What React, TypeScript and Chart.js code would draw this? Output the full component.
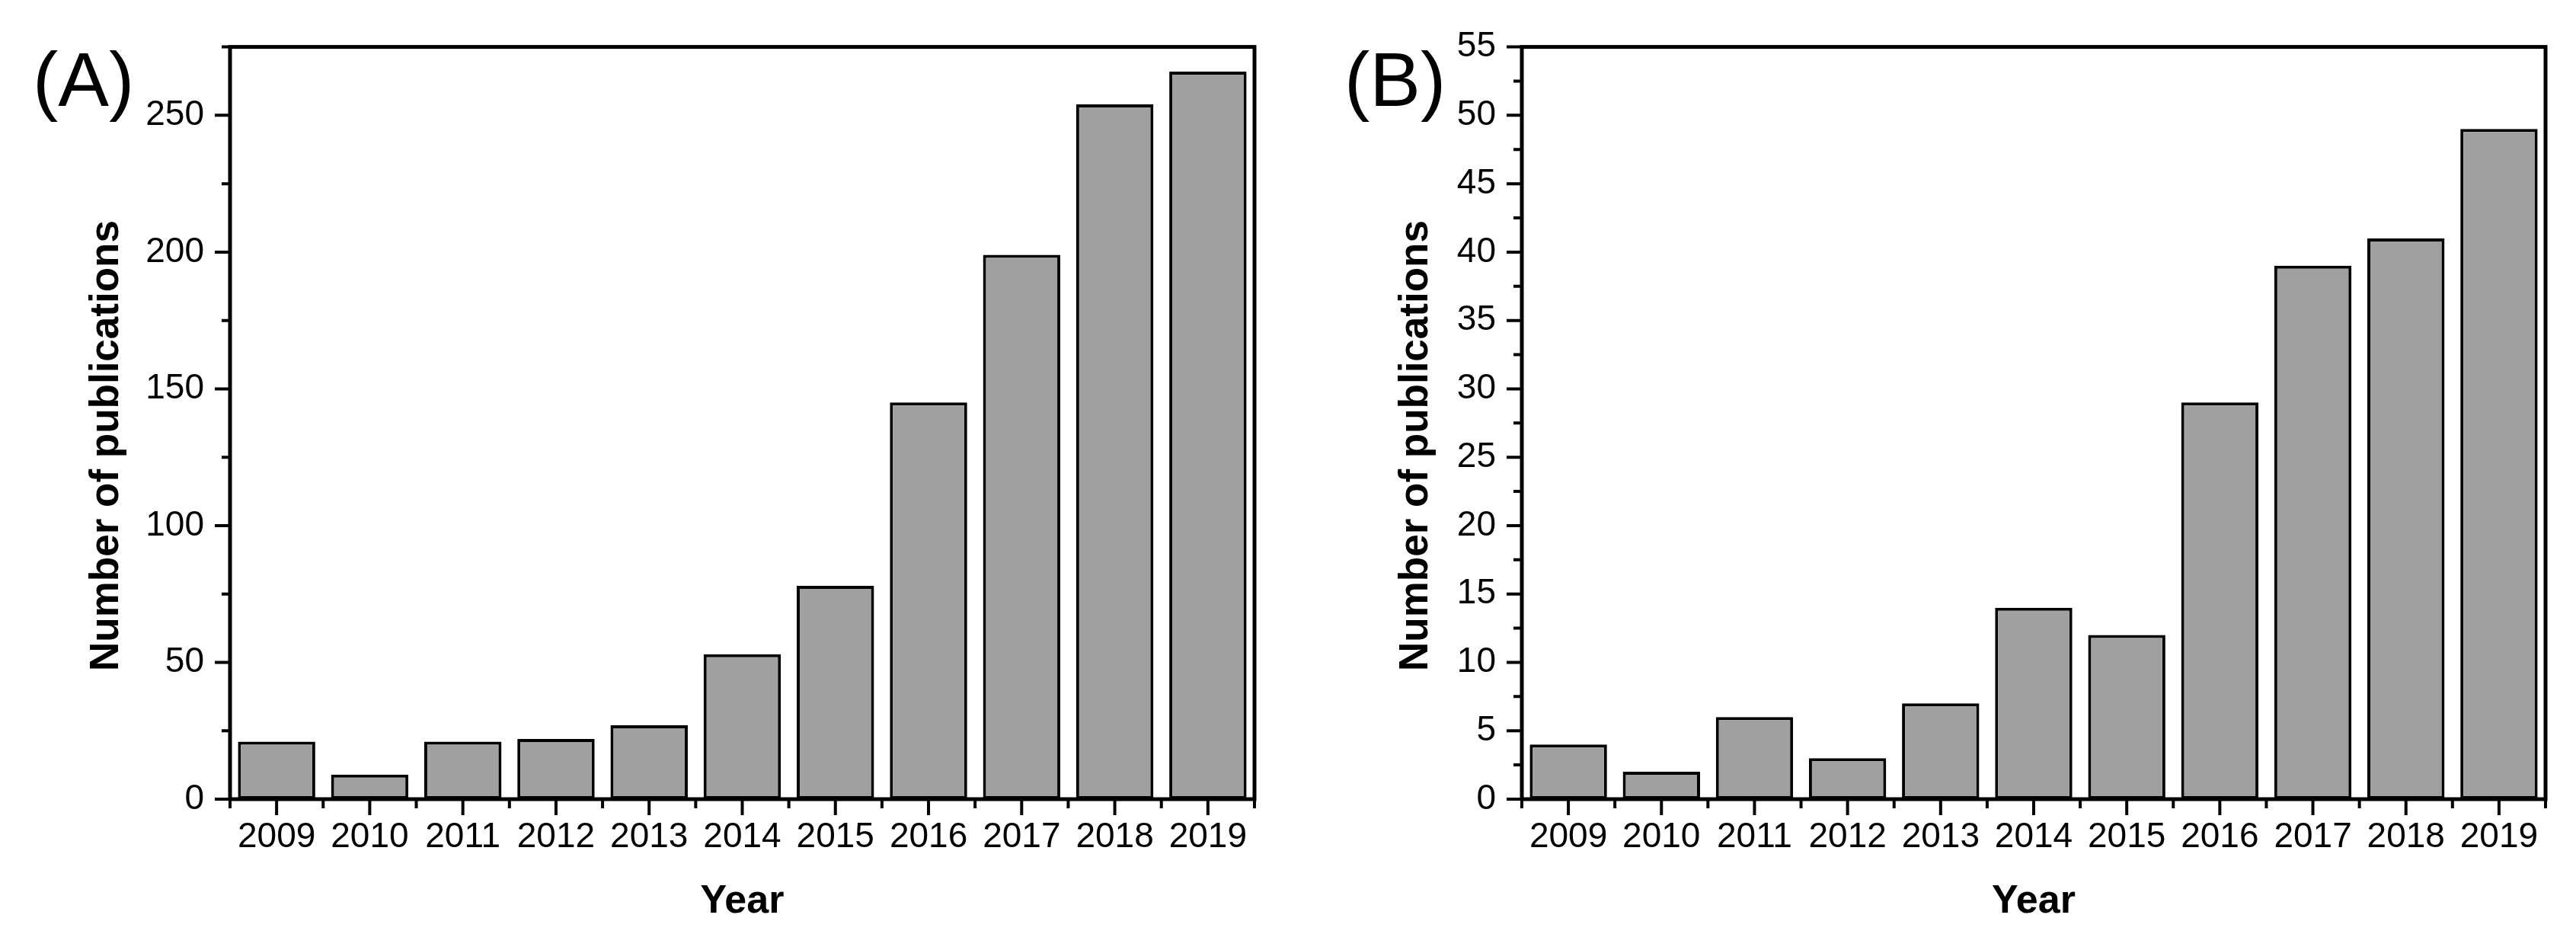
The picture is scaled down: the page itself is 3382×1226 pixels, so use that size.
import React, { useEffect, useRef } from 'react';
import { Chart, registerables } from 'chart.js';

Chart.register(...registerables);

// ---- data ----
const years = ['2009', '2010', '2011', '2012', '2013', '2014', '2015', '2016', '2017', '2018', '2019'];
const publicationsA = [21, 9, 21, 22, 27, 53, 78, 145, 199, 254, 266];
const publicationsB = [4, 2, 6, 3, 7, 14, 12, 29, 39, 41, 49];
const yMaxA = 275;
const yStepA = 25;
const yMajorA = 50;
const yMaxB = 55;
const yStepB = 2.5;
const yMajorB = 5;
const panelLabels = ['(A)', '(B)'];
const xTitle = 'Year';
const yTitle = 'Number of publications';

const FONT = '"Liberation Sans", Arial, Helvetica, sans-serif';
const CANVAS_W = 1691;
const CANVAS_H = 1226;

type PanelProps = {
  label: string;
  values: number[];
  yMax: number;
  yStep: number;
  yMajor: number;
  yAxisWidth: number;
  padRight: number;
  labelX: number;
  yTitleX: number;
  left: number;
};

function isMajor(v: number, major: number) {
  const r = v / major;
  return Math.abs(r - Math.round(r)) < 1e-6;
}

function Panel(props: PanelProps) {
  const ref = useRef<HTMLCanvasElement | null>(null);
  useEffect(() => {
    const canvas = ref.current;
    if (!canvas) return;
    const { label, values, yMax, yStep, yMajor, yAxisWidth, padRight, labelX, yTitleX } = props;
    const n = years.length;
    const framePlugin = {
      id: 'frameTicks',
      afterDraw(chart: any) {
        const { ctx, chartArea: a, scales } = chart;
        const x = scales.x;
        const y = scales.y;
        ctx.save();
        ctx.strokeStyle = '#000';
        ctx.lineWidth = 4;
        ctx.lineCap = 'butt';
        ctx.beginPath();
        y.ticks.forEach((t: any) => {
          const py = y.getPixelForValue(t.value);
          const len = isMajor(t.value, yMajor) ? 20 : 11;
          ctx.moveTo(a.left - len, py);
          ctx.lineTo(a.left, py);
        });
        for (let i = 0; i < n; i++) {
          const px = x.getPixelForValue(i);
          ctx.moveTo(px, a.bottom);
          ctx.lineTo(px, a.bottom + 21);
        }
        for (let i = 0; i <= n; i++) {
          const px = x.getPixelForValue(i - 0.5);
          ctx.moveTo(px, a.bottom);
          ctx.lineTo(px, a.bottom + 12);
        }
        ctx.stroke();
        ctx.lineWidth = 5;
        ctx.strokeRect(a.left, a.top, a.right - a.left, a.bottom - a.top);

        // y axis title
        ctx.fillStyle = '#000';
        ctx.font = `bold 53px ${FONT}`;
        ctx.textAlign = 'center';
        ctx.textBaseline = 'middle';
        ctx.save();
        ctx.translate(yTitleX, 585);
        ctx.rotate(-Math.PI / 2);
        ctx.fillText(yTitle, 0, 0);
        ctx.restore();

        // panel label
        ctx.font = `100px ${FONT}`;
        ctx.textAlign = 'left';
        ctx.textBaseline = 'alphabetic';
        ctx.fillText(label, labelX, 139);
        ctx.restore();
      },
    };

    const chart = new Chart(canvas, {
      type: 'bar',
      data: {
        labels: years,
        datasets: [
          {
            data: values,
            backgroundColor: '#a0a0a0',
            borderColor: '#000',
            borderWidth: 4,
            borderSkipped: false,
            barPercentage: 0.83,
            categoryPercentage: 1,
          },
        ],
      },
      options: {
        animation: false,
        responsive: false,
        devicePixelRatio: 1,
        events: [],
        layout: { padding: { left: 0, top: 49, right: padRight, bottom: 0 } },
        plugins: { legend: { display: false }, tooltip: { enabled: false } },
        scales: {
          x: {
            type: 'category',
            offset: true,
            grid: { display: false, drawTicks: false },
            border: { display: false },
            ticks: {
              color: '#000',
              font: { family: FONT, size: 46 },
              padding: 23,
              autoSkip: false,
              maxRotation: 0,
              minRotation: 0,
            },
            title: {
              display: true,
              text: xTitle,
              color: '#000',
              font: { family: FONT, size: 52, weight: 'bold' },
              padding: { top: 0, bottom: 11 },
            },
            afterFit(scale: any) {
              scale.height = CANVAS_H - 1049;
            },
          },
          y: {
            type: 'linear',
            min: 0,
            max: yMax,
            grid: { display: false, drawTicks: false },
            border: { display: false },
            ticks: {
              stepSize: yStep,
              autoSkip: false,
              color: '#000',
              font: { family: FONT, size: 46 },
              padding: 34,
              callback: (v: any) => (isMajor(Number(v), yMajor) ? String(v) : ''),
            },
            afterFit(scale: any) {
              scale.width = yAxisWidth;
            },
          },
        },
      },
      plugins: [framePlugin],
    } as any);
    return () => chart.destroy();
  }, []);
  return (
    <canvas
      ref={ref}
      width={CANVAS_W}
      height={CANVAS_H}
      style={{ position: 'absolute', left: props.left, top: 0, width: CANVAS_W, height: CANVAS_H, display: 'block' }}
    />
  );
}

export default function App() {
  return (
    <div
      style={{
        position: 'absolute',
        left: 0,
        top: 0,
        width: 3382,
        height: 1226,
        background: '#fff',
        overflow: 'hidden',
      }}
    >
      <Panel
        label={panelLabels[0]}
        values={publicationsA}
        yMax={yMaxA}
        yStep={yStepA}
        yMajor={yMajorA}
        yAxisWidth={302}
        padRight={CANVAS_W - 1647}
        labelX={43}
        yTitleX={140}
        left={0}
      />
      <Panel
        label={panelLabels[1]}
        values={publicationsB}
        yMax={yMaxB}
        yStep={yStepB}
        yMajor={yMajorB}
        yAxisWidth={307}
        padRight={CANVAS_W - 1651}
        labelX={74}
        yTitleX={168}
        left={1691}
      />
    </div>
  );
}
